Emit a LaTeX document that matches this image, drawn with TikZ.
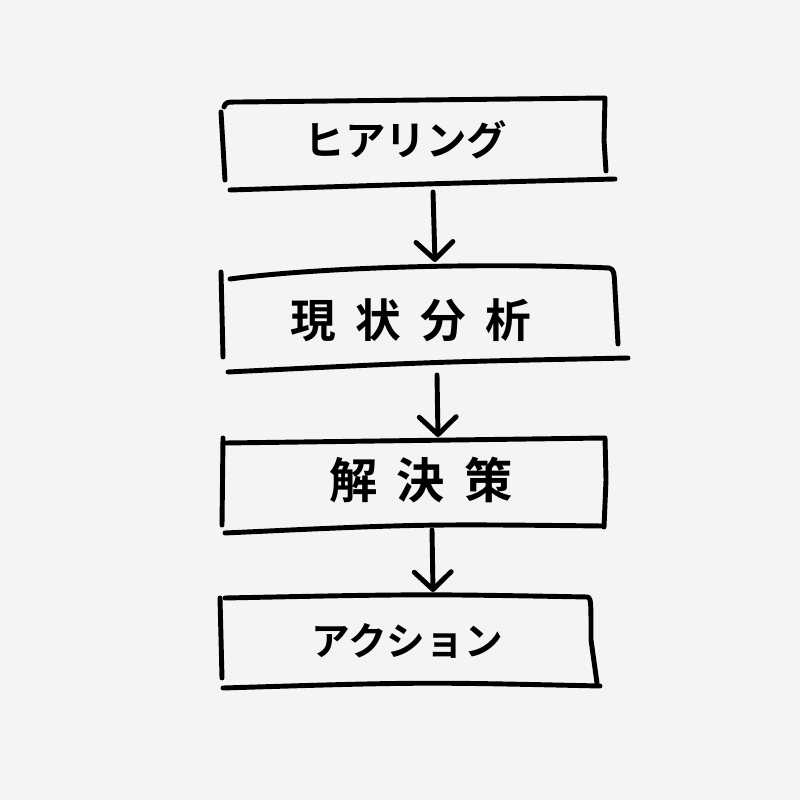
\documentclass[tikz,border=0pt]{standalone}
\usepackage{fontspec}
\newfontfamily\jp{Noto Sans CJK JP}[BoldFont={Noto Sans CJK JP Bold}]
\usetikzlibrary{arrows.meta,calc}
\definecolor{paper}{HTML}{F4F4F4}

\begin{document}
\begin{tikzpicture}[x=0.02cm,y=-0.02cm,line width=2.8pt,line cap=round,line join=round,
	kana/.style={font=\jp\bfseries\fontsize{23}{27}\selectfont,inner sep=0},
	kanji/.style={font=\jp\bfseries\fontsize{26}{30}\selectfont,inner sep=0},
	arr/.style={-{Straight Barb[length=10pt,width=21pt,round]}}]
			\fill[paper] (0,0) rectangle (800,800);

			% boxes
			\draw (224,107) .. controls (226,102) .. (240,102) -- (605,98) -- (604,140) -- (606,171);
			\draw (221,112) -- (225,180);
			\draw (230,190) .. controls (420,184) .. (615,179);

			\draw (230,279) .. controls (330,266) and (500,263) .. (609,268) .. controls (614,270) .. (615,290) -- (618,344);
			\draw (221,272) -- (223,357);
			\draw (228,372) .. controls (430,362) .. (628,358);

			\draw (225,443) -- (605,438) -- (606,480) -- (604,527);
			\draw (223,438) -- (222,525);
			\draw (225,533) .. controls (420,524) .. (603,526);

			\draw (225,598) .. controls (420,594) .. (588,597) .. controls (591,600) .. (591,640) -- (597,683);
			\draw (220,598) -- (222,678);
			\draw (223,688) .. controls (420,682) .. (600,686);

			% steps
			\node[kana] (hear) at (406,140) {ヒアリング};
			\node[kanji] (now) at (411,320) {現\hspace{11pt}状\hspace{11pt}分\hspace{11pt}析};
			\node[kanji,font=\jp\bfseries\fontsize{27.5}{32}\selectfont] (sol) at (421,480) {解\hspace{11pt}決\hspace{11pt}策};
			\node[kana,font=\jp\bfseries\fontsize{22}{26}\selectfont] (act) at (407,641) {アクション};

			\draw[arr] ($(hear)+(27,52)$) -- ($(now)+(24,-58)$);
			\draw[arr] ($(now)+(26,55)$) -- ($(sol)+(17,-43)$);
			\draw[arr] ($(sol)+(11,50)$) -- ($(act)+(26,-49)$);
		\end{tikzpicture}
\end{document}
